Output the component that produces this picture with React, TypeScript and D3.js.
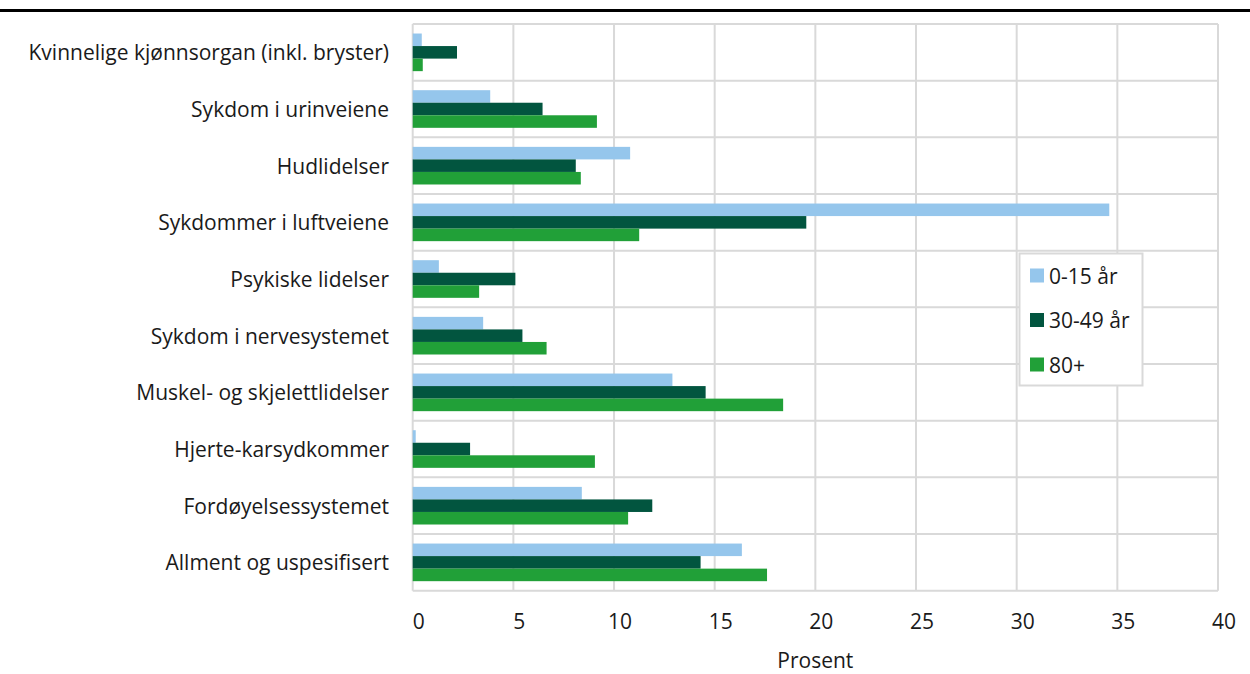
import React from "react";
import * as d3 from "d3";

const categories = [
  "Kvinnelige kjønnsorgan (inkl. bryster)",
  "Sykdom i urinveiene",
  "Hudlidelser",
  "Sykdommer i luftveiene",
  "Psykiske lidelser",
  "Sykdom i nervesystemet",
  "Muskel- og skjelettlidelser",
  "Hjerte-karsydkommer",
  "Fordøyelsessystemet",
  "Allment og uspesifisert",
];
const seriesNames = ["0-15 år", "30-49 år", "80+"];
const age0to15 = [0.45, 3.85, 10.8, 34.6, 1.3, 3.5, 12.9, 0.15, 8.4, 16.35];
const age30to49 = [2.2, 6.45, 8.1, 19.55, 5.1, 5.45, 14.55, 2.85, 11.9, 14.3];
const age80plus = [0.5, 9.15, 8.35, 11.25, 3.3, 6.65, 18.4, 9.05, 10.7, 17.6];
const xTicks = [0, 5, 10, 15, 20, 25, 30, 35, 40];
const colors = ["#95C6EC", "#02553F", "#21A038"];
const xLabel = "Prosent";

export default function App() {
  const W = 1250, H = 674;
  const left = 412.7, right = 1218, top = 24, bottom = 590.7;
  const x = d3.scaleLinear().domain([0, 40]).range([left, right]);
  const y = d3.scaleBand<string>().domain(categories).range([top, bottom]).padding(0);
  const bw = y.bandwidth();
  const inner = d3.scaleBand<string>().domain(seriesNames).range([bw * 0.168, bw * 0.832]).padding(0);
  const seriesVals = [age0to15, age30to49, age80plus];
  const font = "'Open Sans', 'Noto Sans', sans-serif";
  const grid = "#D9D9D9";
  const textCol = "#1a1a1a";
  const fs = 21;
  const lx = 1019.5, ly = 253.5, lw = 123, lh = 132;

  return (
    <svg width={W} height={H} style={{ position: "absolute", left: 0, top: 0, display: "block" }} fontFamily={font}>
      <rect x={0} y={0} width={W} height={H} fill="#fff" />
      <rect x={0} y={9} width={W} height={3} fill="#000" />
      {xTicks.map((t) => (
        <line key={"v" + t} x1={x(t)} x2={x(t)} y1={top} y2={bottom} stroke={grid} strokeWidth={2} />
      ))}
      {d3.range(categories.length + 1).map((i) => (
        <line key={"h" + i} x1={left} x2={right} y1={top + i * bw} y2={top + i * bw} stroke={grid} strokeWidth={2} />
      ))}
      {categories.map((c, ci) =>
        seriesVals.map((vals, si) => (
          <rect
            key={c + si}
            x={x(0)}
            y={(y(c) as number) + (inner(seriesNames[si]) as number)}
            width={x(vals[ci]) - x(0)}
            height={inner.bandwidth()}
            fill={colors[si]}
          />
        ))
      )}
      {categories.map((c) => (
        <text key={"l" + c} x={389} y={(y(c) as number) + bw / 2} textAnchor="end" dominantBaseline="central" fontSize={fs} fill={textCol}>
          {c}
        </text>
      ))}
      {xTicks.map((t) => (
        <text key={"t" + t} x={x(t) + 6} y={621} textAnchor="middle" dominantBaseline="central" fontSize={fs} fill={textCol}>
          {t}
        </text>
      ))}
      <text x={(left + right) / 2} y={660} textAnchor="middle" dominantBaseline="central" fontSize={fs} fill={textCol}>
        {xLabel}
      </text>
      <rect x={lx} y={ly} width={lw} height={lh} fill="#fff" stroke={grid} strokeWidth={2} />
      {seriesNames.map((s, i) => (
        <g key={"lg" + s}>
          <rect x={1030} y={268.5 + i * 44.5} width={14} height={14} fill={colors[i]} />
          <text x={1049} y={275.5 + i * 44.5} dominantBaseline="central" fontSize={fs} fill={textCol}>
            {s}
          </text>
        </g>
      ))}
    </svg>
  );
}
